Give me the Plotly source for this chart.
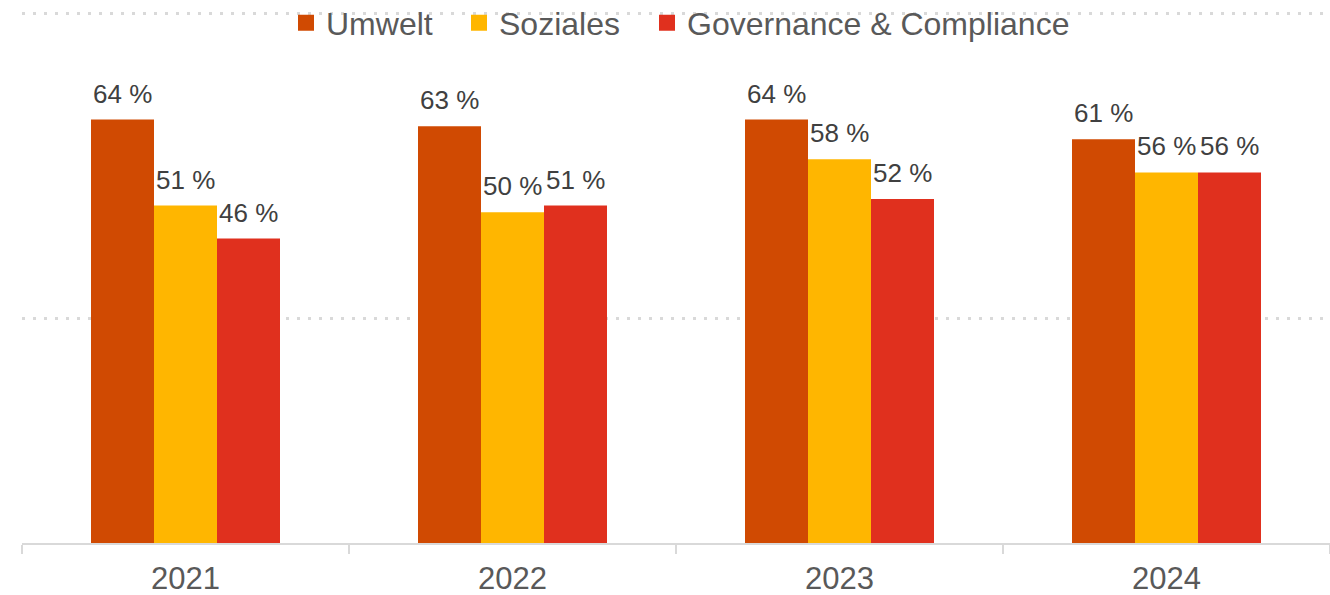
import plotly.graph_objects as go

years = ["2021", "2022", "2023", "2024"]
series_names = ["Umwelt", "Soziales", "Governance & Compliance"]
umwelt = [64, 63, 64, 61]
soziales = [51, 50, 58, 56]
governance = [46, 51, 52, 56]
colors = ["#D04A02", "#FFB600", "#E0301E"]
gridline_vals = [34, 80]

values = [umwelt, soziales, governance]

W, H = 1330, 595
ML, MR, MT, MB = 22, 0, 11, 52
BARGAP = 0.422
plot_w = W - ML - MR
plot_h = H - MT - MB
cat_px = plot_w / len(years)
bar_px = cat_px * (1 - BARGAP) / len(series_names)

# legend item left edges (pixels) for the three separate legends
legend_px = [286, 459, 647]
legend_mid_px = 23

fig = go.Figure()
for name, vals, col in zip(series_names, values, colors):
    fig.add_trace(go.Bar(
        x=years, y=vals, name=name, marker=dict(color=col, line=dict(width=0)),
        showlegend=False, legendgroup=name,
    ))
for k, (name, col) in enumerate(zip(series_names, colors)):
    fig.add_trace(go.Scatter(
        x=years, y=[None] * len(years), mode="markers", name=name, legendgroup=name,
        marker=dict(symbol="square", size=16, color=col), hoverinfo="skip",
        legend="legend" if k == 0 else f"legend{k + 1}",
    ))

annotations = []
for i, vals in enumerate(values):
    for j, v in enumerate(vals):
        annotations.append(dict(
            x=j, y=v, xref="x", yref="y", text=f"{v} %", showarrow=False,
            xshift=(i - 1) * bar_px, yanchor="bottom", yshift=9,
            font=dict(family="Liberation Sans, Arial", size=26, color="#404040"),
        ))

legend_common = dict(
    orientation="h", xanchor="left", y=1 - (legend_mid_px - MT) / plot_h, yanchor="middle",
    font=dict(size=32, color="#595959"), bgcolor="rgba(0,0,0,0)",
    itemclick=False, itemdoubleclick=False, borderwidth=0,
)
legends = {}
for k, px in enumerate(legend_px):
    key = "legend" if k == 0 else f"legend{k + 1}"
    legends[key] = dict(legend_common, x=(px - ML) / plot_w)

fig.update_layout(
    width=W, height=H,
    margin=dict(l=ML, r=MR, t=MT, b=MB, pad=0, autoexpand=False),
    paper_bgcolor="white", plot_bgcolor="white",
    barmode="group", bargap=BARGAP, bargroupgap=0,
    font=dict(family="Liberation Sans, Arial", color="#595959"),
    annotations=annotations,
    xaxis=dict(
        type="category", categoryorder="array", categoryarray=years,
        range=[-0.5, len(years) - 0.5], automargin=False, tickangle=0,
        showline=True, linecolor="#d9d9d9", linewidth=2,
        ticks="outside", tickson="boundaries", ticklen=9, tickcolor="#d9d9d9", tickwidth=2,
        tickfont=dict(size=31, color="#595959"), ticklabelstandoff=7,
        showgrid=False, zeroline=False, fixedrange=True,
    ),
    yaxis=dict(
        range=[0, 80.4], tickvals=gridline_vals, showticklabels=False,
        showgrid=True, gridcolor="#d9d9d9", gridwidth=3, griddash="3px,8px",
        zeroline=False, showline=False, fixedrange=True, automargin=False,
    ),
    **legends,
)

fig.write_html("out.html", config={"displayModeBar": False})
